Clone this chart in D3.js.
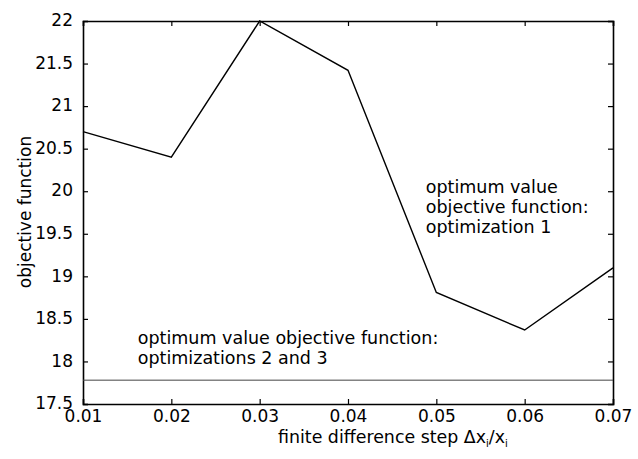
<!DOCTYPE html>
<html>
<head>
<meta charset="utf-8">
<script src="https://cdn.jsdelivr.net/npm/d3@7"></script>
<style>
  body { margin: 0; background: #fff; }
  svg text, svg tspan { font-family: "DejaVu Sans", "Liberation Sans", sans-serif; fill: #000; }
</style>
</head>
<body>
<div id="chart"></div>
<script>
// data
var steps = [0.01, 0.02, 0.03, 0.04, 0.05, 0.06, 0.07];
var objective = [20.7, 20.4, 22.0, 21.42, 18.81, 18.37, 19.1];
var optimum23 = 17.78;
var xTicks = [0.01, 0.02, 0.03, 0.04, 0.05, 0.06, 0.07];
var yTicks = [17.5, 18, 18.5, 19, 19.5, 20, 20.5, 21, 21.5, 22];
var note1 = ["optimum value", "objective function:", "optimization 1"];
var note23 = ["optimum value objective function:", "optimizations 2 and 3"];

var W = 638, H = 459;
var margin = { top: 21, right: 25, bottom: 55, left: 83 };
var width = W - margin.left - margin.right;
var height = H - margin.top - margin.bottom;

var svg = d3.select("#chart").append("svg")
       .attr("width", W).attr("height", H);
var g = svg.append("g")
       .attr("transform", "translate(" + margin.left + "," + margin.top + ")");

var x = d3.scaleLinear().domain([0.01, 0.07]).range([0, width]);
var y = d3.scaleLinear().domain([17.5, 22]).range([height, 0]);

// axes with inward ticks (box style)
var fmtX = d3.format(".2f");
var fmtY = function (d) { return d3.format("")(d); };

var xb = g.append("g").attr("transform", "translate(0," + height + ")")
       .call(d3.axisBottom(x).tickValues(xTicks).tickSize(-5).tickFormat(fmtX));
var xt = g.append("g")
       .call(d3.axisTop(x).tickValues(xTicks).tickSize(-5).tickFormat(""));
var yl = g.append("g")
       .call(d3.axisLeft(y).tickValues(yTicks).tickSize(-5).tickPadding(10).tickFormat(fmtY));
var yr = g.append("g").attr("transform", "translate(" + width + ",0)")
       .call(d3.axisRight(y).tickValues(yTicks).tickSize(-5).tickFormat(""));

[xb, xt, yl, yr].forEach(function (a) {
       a.select(".domain").attr("stroke", "#000").attr("stroke-width", 1.6);
       a.selectAll(".tick line").attr("stroke", "#000").attr("stroke-width", 1.2);
       a.selectAll(".tick text").style("font-size", "17px");
});
xb.selectAll(".tick text").attr("y", 18).attr("dy", 0);
yl.selectAll(".tick text").attr("dy", "0.28em");

// horizontal optimum line
g.append("line")
       .attr("x1", 0).attr("x2", width)
       .attr("y1", y(optimum23)).attr("y2", y(optimum23))
       .attr("stroke", "#444").attr("stroke-width", 1);

// objective curve
var line = d3.line()
       .x(function (d, i) { return x(steps[i]); })
       .y(function (d) { return y(d); });
g.append("path").datum(objective)
       .attr("d", line)
       .attr("fill", "none")
       .attr("stroke", "#000")
       .attr("stroke-width", 1.4);

// annotations
var t1 = g.append("text").attr("x", x(0.0488)).attr("y", y(19.98))
       .style("font-size", "17.5px");
note1.forEach(function (s, i) {
       t1.append("tspan").attr("x", x(0.0488)).attr("dy", i === 0 ? 0 : 20).text(s);
});
var t2 = g.append("text").attr("x", x(0.0162)).attr("y", y(18.21))
       .style("font-size", "17.5px");
note23.forEach(function (s, i) {
       t2.append("tspan").attr("x", x(0.0162)).attr("dy", i === 0 ? 0 : 20).text(s);
});

// axis labels
var xl = svg.append("text")
       .attr("x", 278).attr("y", 443)
       .style("font-size", "17.4px");
xl.append("tspan").text("finite difference step \u0394x");
xl.append("tspan").attr("dy", 4).style("font-size", "10px").text("i");
xl.append("tspan").attr("dy", -4).text("/x");
xl.append("tspan").attr("dy", 4).style("font-size", "10px").text("i");

svg.append("text")
       .attr("transform", "translate(31,212) rotate(-90)")
       .attr("text-anchor", "middle")
       .style("font-size", "17px")
       .text("objective function");
</script>
</body>
</html>
